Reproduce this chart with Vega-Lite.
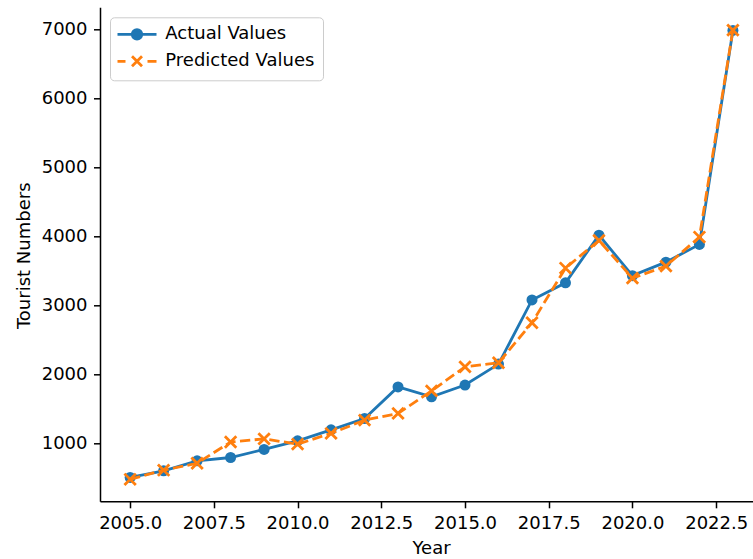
{
  "$schema": "https://vega.github.io/schema/vega-lite/v6.json",
  "autosize": {"type": "none"},
  "padding": {"left": 100, "top": 7.3, "right": 0, "bottom": 57.7},
  "width": 653,
  "height": 494,
  "background": "white",
  "config": {
    "font": "DejaVu Sans",
    "view": {"stroke": null},
    "axis": {
      "labelFont": "DejaVu Sans", "titleFont": "DejaVu Sans",
      "labelFontSize": 18, "titleFontSize": 18,
      "labelColor": "#000000", "titleColor": "#000000", "titleFontWeight": "normal",
      "domainColor": "#000000", "tickColor": "#000000",
      "domainWidth": 1.5, "tickWidth": 1.5, "tickSize": 6.5, "labelPadding": 6.5,
      "grid": false
    }
  },
  "data": {
    "values": [
      {"Year": 2005, "series": "Actual Values", "value": 500},
      {"Year": 2006, "series": "Actual Values", "value": 596},
      {"Year": 2007, "series": "Actual Values", "value": 742},
      {"Year": 2008, "series": "Actual Values", "value": 790},
      {"Year": 2009, "series": "Actual Values", "value": 907},
      {"Year": 2010, "series": "Actual Values", "value": 1032},
      {"Year": 2011, "series": "Actual Values", "value": 1192},
      {"Year": 2012, "series": "Actual Values", "value": 1356},
      {"Year": 2013, "series": "Actual Values", "value": 1815},
      {"Year": 2014, "series": "Actual Values", "value": 1672},
      {"Year": 2015, "series": "Actual Values", "value": 1842},
      {"Year": 2016, "series": "Actual Values", "value": 2146},
      {"Year": 2017, "series": "Actual Values", "value": 3077},
      {"Year": 2018, "series": "Actual Values", "value": 3326},
      {"Year": 2019, "series": "Actual Values", "value": 4018},
      {"Year": 2020, "series": "Actual Values", "value": 3430},
      {"Year": 2021, "series": "Actual Values", "value": 3626},
      {"Year": 2022, "series": "Actual Values", "value": 3884},
      {"Year": 2023, "series": "Actual Values", "value": 6990},
      {"Year": 2005, "series": "Predicted Values", "value": 473},
      {"Year": 2006, "series": "Predicted Values", "value": 606},
      {"Year": 2007, "series": "Predicted Values", "value": 706},
      {"Year": 2008, "series": "Predicted Values", "value": 1015},
      {"Year": 2009, "series": "Predicted Values", "value": 1060},
      {"Year": 2010, "series": "Predicted Values", "value": 984},
      {"Year": 2011, "series": "Predicted Values", "value": 1140},
      {"Year": 2012, "series": "Predicted Values", "value": 1332},
      {"Year": 2013, "series": "Predicted Values", "value": 1430},
      {"Year": 2014, "series": "Predicted Values", "value": 1757},
      {"Year": 2015, "series": "Predicted Values", "value": 2106},
      {"Year": 2016, "series": "Predicted Values", "value": 2165},
      {"Year": 2017, "series": "Predicted Values", "value": 2747},
      {"Year": 2018, "series": "Predicted Values", "value": 3540},
      {"Year": 2019, "series": "Predicted Values", "value": 3940},
      {"Year": 2020, "series": "Predicted Values", "value": 3394},
      {"Year": 2021, "series": "Predicted Values", "value": 3568},
      {"Year": 2022, "series": "Predicted Values", "value": 3990},
      {"Year": 2023, "series": "Predicted Values", "value": 6995}
    ]
  },
  "encoding": {
    "x": {
      "field": "Year", "type": "quantitative",
      "scale": {"domain": [2004.1, 2023.6], "nice": false, "zero": false},
      "axis": {
        "values": [2005, 2007.5, 2010, 2012.5, 2015, 2017.5, 2020, 2022.5],
        "format": ".1f", "title": "Year",
        "titleX": 331, "titleY": 52, "titleBaseline": "alphabetic", "titleAlign": "center"
      }
    },
    "y": {
      "field": "value", "type": "quantitative",
      "scale": {"domain": [154, 7326], "nice": false, "zero": false},
      "axis": {
        "values": [1000, 2000, 3000, 4000, 5000, 6000, 7000],
        "format": "d", "title": "Tourist Numbers",
        "titleX": -70.5, "titleY": 248, "titleBaseline": "alphabetic", "titleAlign": "center", "titleAngle": -90
      }
    }
  },
  "layer": [
    {
      "transform": [{"filter": "datum.series == 'Actual Values'"}],
      "mark": {"type": "line", "color": "#1f77b4", "strokeWidth": 2.8}
    },
    {
      "transform": [{"filter": "datum.series == 'Actual Values'"}],
      "mark": {"type": "point", "shape": "circle", "filled": true, "color": "#1f77b4", "size": 121, "opacity": 1}
    },
    {
      "transform": [{"filter": "datum.series == 'Predicted Values'"}],
      "mark": {"type": "line", "color": "#ff7f0e", "strokeWidth": 2.8, "strokeDash": [10.3, 4.45]}
    },
    {
      "transform": [{"filter": "datum.series == 'Predicted Values'"}],
      "mark": {"type": "point", "shape": "M-1,-1L1,1M-1,1L1,-1", "filled": false, "color": "#ff7f0e", "size": 130, "strokeWidth": 2.8, "opacity": 1}
    },
    {
      "data": {"values": [{"edge": "top"}]},
      "mark": {"type": "rule", "color": "#000000", "strokeWidth": 1.5},
      "encoding": {"x": null, "y": {"datum": 7326}}
    },
    {
      "transform": [{"filter": "false"}],
      "mark": {"type": "point", "filled": true, "opacity": 1},
      "encoding": {
        "fill": {"field": "series", "type": "nominal",
          "scale": {"domain": ["Actual Values", "Predicted Values"], "range": ["#1f77b4", "#ff7f0e"]},
          "legend": {
            "title": null, "orient": "none", "legendX": 10, "legendY": 10,
            "padding": 8, "strokeColor": "#cccccc", "fillColor": "rgba(255,255,255,0.8)", "cornerRadius": 4,
            "labelFont": "DejaVu Sans", "labelFontSize": 18, "labelColor": "#000000",
            "symbolSize": 100, "symbolOffset": 10, "labelOffset": 19.3, "rowPadding": 5,
            "symbolStrokeWidth": 2.8
          }
        },
        "stroke": {"field": "series", "type": "nominal",
          "scale": {"domain": ["Actual Values", "Predicted Values"], "range": ["#1f77b4", "#ff7f0e"]}},
        "shape": {"field": "series", "type": "nominal",
          "scale": {"domain": ["Actual Values", "Predicted Values"],
            "range": ["M-3.9,0H3.9M-0.95,0A0.95,0.95 0 1,0 0.95,0A0.95,0.95 0 1,0 -0.95,0Z",
                      "M-3.9,0H-2.3M-1,-1L1,1M-1,1L1,-1M2.1,0H3.9"]}}
      }
    }
  ]
}
